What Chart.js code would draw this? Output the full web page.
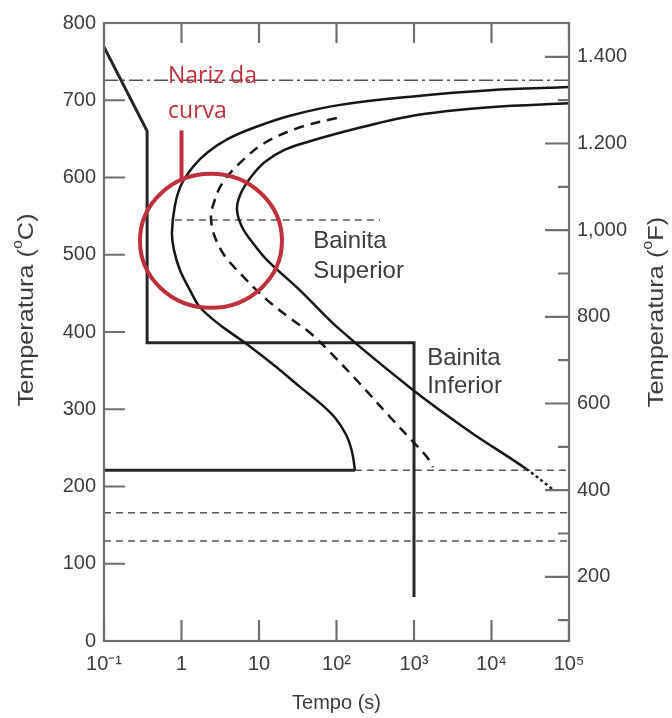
<!DOCTYPE html>
<html>
<head>
<meta charset="utf-8">
<script src="https://cdn.jsdelivr.net/npm/chart.js@4.4.0/dist/chart.umd.min.js"></script>
<style>
  html, body { margin: 0; padding: 0; background: #fff; }
  #wrap { width: 672px; height: 718px; }
</style>
</head>
<body>
<div id="wrap"><canvas id="ttt" width="672" height="718"></canvas></div>
<script>
// curva de inicio da transformacao (tempo em s, temperatura em oC)
var inicioTempo = [173, 158.5, 133, 95.7, 61.2, 33.8, 16.1, 6.59, 3.14, 1.73, 1.29, 0.957, 0.80, 0.753,
                   0.824, 0.985, 1.41, 2.20, 3.98, 8.87, 25.1, 111, 970, 9550, 100000];
var inicioTemp  = [221, 245, 267, 289, 308, 329, 356, 386, 409, 432, 454, 480, 506, 529,
                   564, 590, 614, 633, 650, 665, 680, 694, 705, 713, 717];

// 50% transformado (tracejada)
var medioTempo = [101, 33.8, 11.9, 5.69, 3.33, 2.55, 2.40, 2.63, 3.53, 5.69, 11.9, 25.1, 45.5, 82.4,
                  201, 490, 970, 1473, 1758];
var medioTemp  = [677, 665, 645, 619, 592, 564, 548, 526, 500, 476, 444, 418, 399, 374,
                  333, 290, 258, 238, 225];

// fim da transformacao
var fimTempo = [100000, 9550, 970, 111, 45.5, 21.6, 11.9, 7.66, 5.69, 5.2, 6.04, 8.37, 12.7, 33.8,
                111, 970, 5280, 27900, 62200];
var fimTemp  = [696, 691, 680, 658, 647, 636, 620, 599, 577, 558, 536, 515, 493, 454,
                403, 325, 271, 223, 196];

// tratamento termico
var caminhoTempo = [0.1, 0.36, 0.36, 1000, 1000];
var caminhoTemp  = [769, 660, 386, 386, 57];

// linhas horizontais de referencia
var tempA1 = 726;
var tempBs = 545;
var tempoBs = [0.82, 365];
var tempMs = 221;
var tempoMs = 173;
var tempM50 = 166;
var tempM90 = 129.5;

// eixos
var xTicks = [0.1, 1, 10, 100, 1000, 10000, 100000];
var xLabels = ['10\u207B\u00B9', '1', '10', '10\u00B2', '10\u00B3', '10\u2074', '10\u2075'];
var fTicks = [100, 200, 300, 400, 500, 600, 700, 800, 900, 1000, 1100, 1200, 1300, 1400];
var fLabels = {200: '200', 400: '400', 600: '600', 800: '800', 1000: '1,000', 1200: '1.200', 1400: '1.400'};

// textos
var rotulosTexto = ['Bainita', 'Superior', 'Bainita', 'Inferior'];
var rotulosTempo = [50, 50, 1480, 1480];
var rotulosTemp  = [509, 470, 357, 321];

var narizTexto = ['Nariz da', 'curva'];
var narizTempo = 0.67;
var narizTemp  = [722, 677];
var setaTempo = 1.0;
var setaTemp  = [661, 594];
var circuloTempo = 2.4;
var circuloTemp  = 518;

var corEixo = '#6f6f6f';
var corTexto = '#3c3c3c';
var corVermelho = '#c0303c';

function pontos(ts, vs) {
  return ts.map(function (t, i) { return {x: t, y: vs[i]}; });
}
function horiz(t0, t1, v) {
  return [{x: t0, y: v}, {x: t1, y: v}];
}

var ultimoFim = fimTempo.length - 2;

var datasets = [
  {data: pontos(inicioTempo, inicioTemp), borderColor: '#161616', borderWidth: 2.5, tension: 0.35},
  {data: pontos(medioTempo, medioTemp), borderColor: '#161616', borderWidth: 2.5, tension: 0.35, borderDash: [10, 7]},
  {data: pontos(fimTempo, fimTemp), borderColor: '#161616', borderWidth: 2.5, tension: 0.35,
    segment: {borderDash: function (c) { return c.p0DataIndex >= ultimoFim ? [3, 3] : undefined; }}},
  {data: pontos(caminhoTempo, caminhoTemp), borderColor: '#262626', borderWidth: 3, tension: 0},
  {data: horiz(0.1, tempoMs, tempMs), borderColor: '#262626', borderWidth: 3},
  {data: horiz(tempoMs, 100000, tempMs), borderColor: '#555', borderWidth: 1.5, borderDash: [7, 5]},
  {data: horiz(0.1, 100000, tempA1), borderColor: '#555', borderWidth: 1.5, borderDash: [14, 4, 3, 4]},
  {data: horiz(tempoBs[0], tempoBs[1], tempBs), borderColor: '#555', borderWidth: 1.5, borderDash: [7, 5]},
  {data: horiz(0.1, 100000, tempM50), borderColor: '#555', borderWidth: 1.5, borderDash: [7, 5]},
  {data: horiz(0.1, 100000, tempM90), borderColor: '#555', borderWidth: 1.5, borderDash: [7, 5]}
];

function textoSobrescrito(ctx, partes, tamanho) {
  // partes: [texto normal, sobrescrito, texto normal]
  var fonte = '"Liberation Sans", Arial, sans-serif';
  var menor = Math.round(tamanho * 0.65);
  ctx.font = tamanho + 'px ' + fonte;
  var w0 = ctx.measureText(partes[0]).width;
  var w2 = ctx.measureText(partes[2]).width;
  ctx.font = menor + 'px ' + fonte;
  var w1 = ctx.measureText(partes[1]).width;
  var x = -(w0 + w1 + w2) / 2;
  ctx.textBaseline = 'middle';
  ctx.font = tamanho + 'px ' + fonte;
  ctx.fillText(partes[0], x, 0);
  ctx.fillText(partes[2], x + w0 + w1, 0);
  ctx.font = menor + 'px ' + fonte;
  ctx.fillText(partes[1], x + w0, -tamanho * 0.38);
}

var moldura = {
  id: 'moldura',
  afterDatasetsDraw: function (chart) {
    var ctx = chart.ctx, a = chart.chartArea, sx = chart.scales.x, sy = chart.scales.y, sf = chart.scales.y2;
    ctx.save();
    ctx.strokeStyle = corEixo;
    ctx.lineWidth = 2.2;
    ctx.strokeRect(a.left, a.top, a.right - a.left, a.bottom - a.top);
    ctx.beginPath();
    sy.ticks.forEach(function (t) {
      var py = sy.getPixelForValue(t.value);
      ctx.moveTo(a.left, py); ctx.lineTo(a.left + 21, py);
    });
    sx.ticks.forEach(function (t) {
      var px = sx.getPixelForValue(t.value);
      ctx.moveTo(px, a.bottom); ctx.lineTo(px, a.bottom - 21);
      ctx.moveTo(px, a.top); ctx.lineTo(px, a.top + 20);
    });
    sf.ticks.forEach(function (t) {
      var py = sf.getPixelForValue(t.value);
      var len = t.value % 200 === 0 ? 24 : 11;
      ctx.moveTo(a.right, py); ctx.lineTo(a.right - len, py);
    });
    ctx.stroke();

    // titulos dos eixos verticais
    ctx.fillStyle = corTexto;
    ctx.save();
    ctx.translate(27, 310);
    ctx.rotate(-Math.PI / 2);
    ctx.scale(1.15, 1);
    textoSobrescrito(ctx, ['Temperatura (', 'o', 'C)'], 22);
    ctx.restore();
    ctx.save();
    ctx.translate(657, 312);
    ctx.rotate(-Math.PI / 2);
    ctx.scale(1.15, 1);
    textoSobrescrito(ctx, ['Temperatura (', 'o', 'F)'], 22);
    ctx.restore();

    // regioes da bainita
    ctx.font = '24px "Liberation Sans", Arial, sans-serif';
    ctx.textBaseline = 'alphabetic';
    ctx.textAlign = 'left';
    rotulosTexto.forEach(function (txt, i) {
      ctx.fillText(txt, sx.getPixelForValue(rotulosTempo[i]), sy.getPixelForValue(rotulosTemp[i]));
    });

    // nariz da curva
    ctx.fillStyle = corVermelho;
    ctx.strokeStyle = corVermelho;
    ctx.font = '23px "Open Sans", "Noto Sans", sans-serif';
    narizTexto.forEach(function (txt, i) {
      ctx.fillText(txt, sx.getPixelForValue(narizTempo), sy.getPixelForValue(narizTemp[i]));
    });
    ctx.lineWidth = 4;
    ctx.beginPath();
    var lx = sx.getPixelForValue(setaTempo);
    ctx.moveTo(lx, sy.getPixelForValue(setaTemp[0]));
    ctx.lineTo(lx, sy.getPixelForValue(setaTemp[1]));
    ctx.stroke();
    ctx.beginPath();
    ctx.ellipse(sx.getPixelForValue(circuloTempo), sy.getPixelForValue(circuloTemp), 71, 67, 0, 0, Math.PI * 2);
    ctx.stroke();
    ctx.restore();
  }
};

var fonteTick = {family: '"Liberation Sans", Arial, sans-serif', size: 20};

new Chart(document.getElementById('ttt'), {
  type: 'line',
  data: {datasets: datasets},
  options: {
    responsive: false,
    animation: false,
    layout: {padding: {top: 23, left: 0, right: 0, bottom: 0}},
    elements: {point: {radius: 0}, line: {fill: false}},
    plugins: {legend: {display: false}, tooltip: {enabled: false}},
    scales: {
      x: {
        type: 'logarithmic',
        min: 0.1,
        max: 100000,
        position: 'bottom',
        grid: {display: false, drawTicks: false},
        border: {display: false},
        afterBuildTicks: function (s) { s.ticks = xTicks.map(function (v) { return {value: v}; }); },
        afterFit: function (s) { s.height = 77; },
        ticks: {
          font: fonteTick, color: corTexto, padding: 11, maxRotation: 0, autoSkip: false,
          callback: function (v, i) { return xLabels[i]; }
        },
        title: {display: true, text: 'Tempo (s)', color: corTexto,
          font: {family: '"Liberation Sans", Arial, sans-serif', size: 20}, padding: {top: 0, bottom: 3}}
      },
      y: {
        type: 'linear',
        min: 0,
        max: 800,
        position: 'left',
        grid: {display: false, drawTicks: false},
        border: {display: false},
        afterFit: function (s) { s.width = 104; },
        ticks: {stepSize: 100, font: fonteTick, color: corTexto, padding: 8}
      },
      y2: {
        type: 'linear',
        min: 52,
        max: 1478,
        position: 'right',
        grid: {display: false, drawTicks: false},
        border: {display: false},
        afterBuildTicks: function (s) { s.ticks = fTicks.map(function (v) { return {value: v}; }); },
        afterFit: function (s) { s.width = 103; },
        ticks: {
          font: fonteTick, color: corTexto, padding: 8, autoSkip: false,
          callback: function (v) { return fLabels[v] || ''; }
        }
      }
    }
  },
  plugins: [moldura]
});
</script>
</body>
</html>
